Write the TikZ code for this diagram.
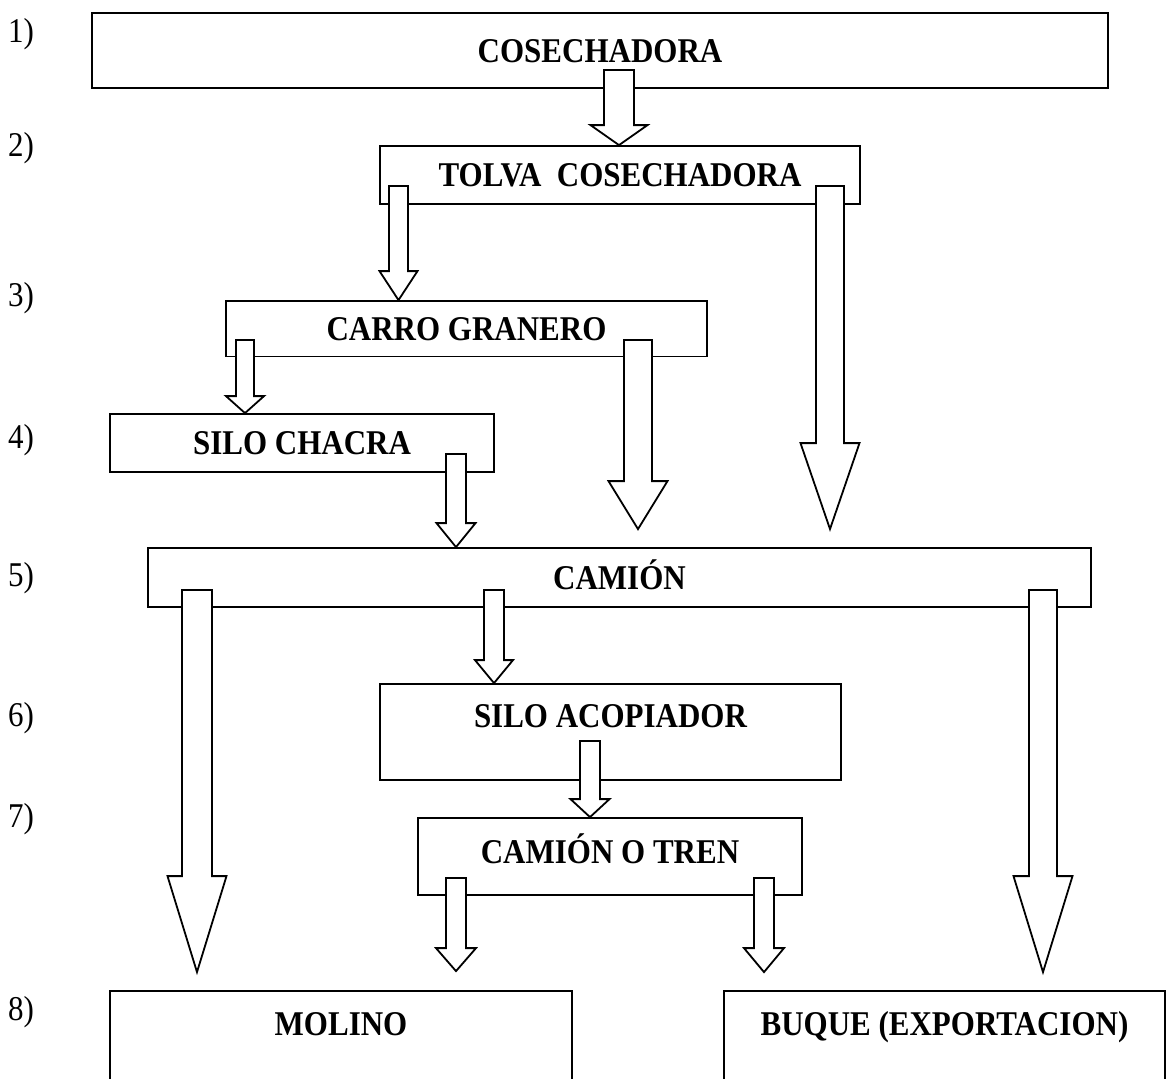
\documentclass[tikz,border=0pt]{standalone}
\usepackage{fontspec}
\setmainfont{Liberation Serif}
\usepackage{tikz}
\usetikzlibrary{calc}

% taller letters, as in the scanned chart
\newcommand{\alto}[1]{\scalebox{1}[1.12]{#1}}

% block arrow: [gap] x, shaft half, head half, head length, from, to, inset
\newcommand{\flecha}[8][0]{%
  \draw[bloque] let \p1=(#6.south), \p2=(#7.north) in
    (#2-#3,\y1+#8pt) -- (#2-#3,\y2+#1pt+#5pt) -- (#2-#4,\y2+#1pt+#5pt)
    -- (#2,\y2+#1pt) -- (#2+#4,\y2+#1pt+#5pt) -- (#2+#3,\y2+#1pt+#5pt)
    -- (#2+#3,\y1+#8pt) -- cycle;}

\begin{document}
\begin{tikzpicture}[
  x=1pt, y=-1pt,
  box/.style={rectangle, draw, line width=1.8pt, fill=white, inner sep=0pt,
              text height=23pt, text depth=0pt,
              font=\fontsize{31}{37}\selectfont\bfseries},
  paso/.style={anchor=west, inner sep=0pt, font=\fontsize{31}{37}\selectfont},
  bloque/.style={draw, fill=white, line width=1.8pt, line join=miter}
]
\useasboundingbox (0,0) rectangle (1173,1079);

\node[box, minimum width=1016pt, minimum height=75pt] (cosechadora) at (600,50.5) {\alto{COSECHADORA}};
\node[box, minimum width=480pt, minimum height=58pt] (tolva) at (620,175) {\alto{TOLVA\ \ COSECHADORA}};
\node[box, minimum width=481pt, minimum height=55.5pt] (carro) at (466.5,328.75) {\alto{CARRO GRANERO}};
\node[box, minimum width=384pt, minimum height=58pt] (silochacra) at (302,443) {\alto{SILO CHACRA}};
\node[box, minimum width=943pt, minimum height=59pt] (camion) at (619.5,577.5) {\alto{CAMIÓN}};
\node[box, minimum width=461pt, minimum height=96pt, text depth=32pt] (acopiador) at (610.5,732) {\alto{SILO ACOPIADOR}};
\node[box, minimum width=384pt, minimum height=77pt, text depth=10pt] (camiontren) at (610,856.5) {\alto{CAMIÓN O TREN}};
\node[box, minimum width=462pt, minimum height=119pt, text depth=53pt] (molino) at (341,1050.5) {\alto{MOLINO}};
\node[box, minimum width=441pt, minimum height=119pt, text depth=53pt] (buque) at (944.5,1050.5) {\alto{BUQUE (EXPORTACION)}};

% step numbers
\node[paso] (p1) at (8,34) {\alto{1)}};
\node[paso] (p2) at (8,148) {\alto{2)}};
\node[paso] (p3) at (8,298) {\alto{3)}};
\node[paso] (p4) at (8,440) {\alto{4)}};
\node[paso] (p5) at (8,578) {\alto{5)}};
\node[paso] (p6) at (8,718) {\alto{6)}};
\node[paso] (p7) at (8,819) {\alto{7)}};
\node[paso] (p8) at (8,1012) {\alto{8)}};

% arrows
\flecha{619}{15}{28.5}{20}{cosechadora}{tolva}{19}
\flecha{398.5}{9.5}{19}{29}{tolva}{carro}{19}
\flecha[18]{830}{14}{29.5}{86}{tolva}{camion}{19}
\flecha{245}{9}{19}{17}{carro}{silochacra}{17.5}
\flecha[18]{638}{14}{29.5}{48}{carro}{camion}{17.5}
\flecha{456}{10}{19.5}{24}{silochacra}{camion}{19}
\flecha[18]{197}{15}{29.5}{96}{camion}{molino}{18}
\flecha{494}{10}{19}{23}{camion}{acopiador}{18}
\flecha[18]{1043}{14}{29.5}{96}{camion}{buque}{18}
\flecha{590}{10}{19.5}{18}{acopiador}{camiontren}{40}
\flecha[19]{456}{10}{20}{23}{camiontren}{molino}{18}
\flecha[18]{764}{10}{20}{24}{camiontren}{buque}{18}

\end{tikzpicture}
\end{document}
